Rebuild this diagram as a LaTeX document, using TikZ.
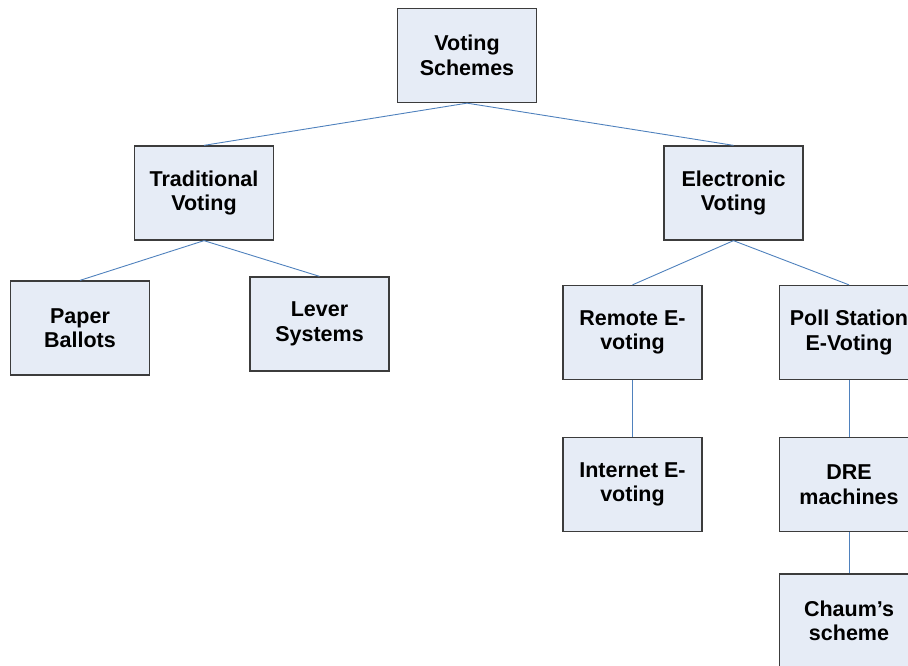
\documentclass[tikz,border=0pt]{standalone}
\usepackage{fontspec}
\setmainfont{Liberation Sans}
\definecolor{boxfill}{HTML}{E6ECF6}
\definecolor{boxline}{HTML}{3C3C3C}
\definecolor{linkblue}{HTML}{4F81BD}
\begin{document}
\begin{tikzpicture}[x=1pt,y=-1pt,
  box/.style={draw=boxline,fill=boxfill,line width=1.3pt,minimum width=139pt,minimum height=94pt,
    inner sep=0pt,align=center,font=\fontsize{21.5}{24.5}\selectfont\bfseries},
  link/.style={draw=linkblue,line width=0.9pt}]
\useasboundingbox (0,0) rectangle (908,665);
\clip (0,0) rectangle (908,665);
\node[box] (vs) at (467,55.5) {Voting\\Schemes};
\node[box] (tv) at (204,193) {Traditional\\Voting};
\node[box] (ev) at (733.5,193) {Electronic\\Voting};
\node[box] (pb) at (80,328) {Paper\\Ballots};
\node[box] (ls) at (319.5,324) {Lever\\Systems};
\node[box] (re) at (632.5,332.5) {Remote E-\\voting};
\node[box] (ps) at (849,332.5) {Poll Station\\E-Voting};
\node[box] (ie) at (632.5,484.5) {Internet E-\\voting};
\node[box] (dre) at (849,484.5) {DRE\\machines};
\node[box] (ch) at (849,621) {Chaum’s\\scheme};
\draw[link] (vs.south) -- (tv.north);
\draw[link] (vs.south) -- (ev.north);
\draw[link] (tv.south) -- (pb.north);
\draw[link] (tv.south) -- (ls.north);
\draw[link] (ev.south) -- (re.north);
\draw[link] (ev.south) -- (ps.north);
\draw[link] (re.south) -- (ie.north);
\draw[link] (ps.south) -- (dre.north);
\draw[link] (dre.south) -- (ch.north);
\end{tikzpicture}
\end{document}
